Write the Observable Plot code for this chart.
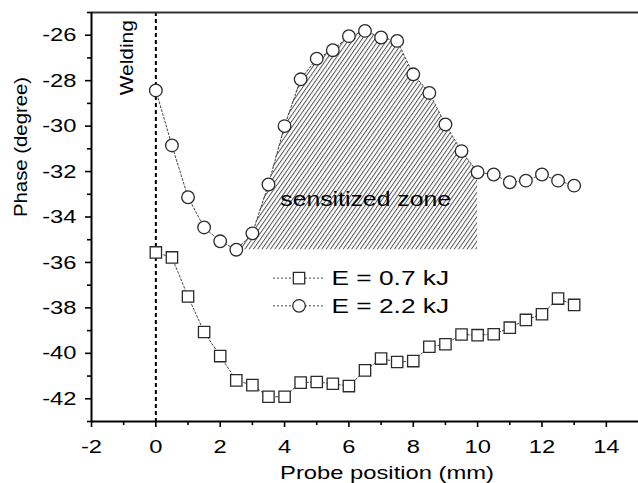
<!DOCTYPE html>
<html>
<head>
<meta charset="utf-8">
<script src="https://cdn.jsdelivr.net/npm/d3@7"></script>
<script src="https://cdn.jsdelivr.net/npm/@observablehq/plot@0.6"></script>
<style>
  html, body { margin: 0; padding: 0; background: #fff; }
  #chart { width: 638px; height: 483px; }
</style>
</head>
<body>
<div id="chart"></div>
<script>
// ---- data ----
const positions = [0, 0.5, 1, 1.5, 2, 2.5, 3, 3.5, 4, 4.5, 5, 5.5, 6, 6.5, 7, 7.5, 8, 8.5, 9, 9.5, 10, 10.5, 11, 11.5, 12, 12.5, 13];
const phaseLow = [-35.56, -35.78, -37.50, -39.06, -40.12, -41.19, -41.40, -41.91, -41.91, -41.29, -41.26, -41.34, -41.44, -40.75, -40.23, -40.38, -40.34, -39.71, -39.60, -39.17, -39.20, -39.16, -38.87, -38.53, -38.28, -37.59, -37.87];
const phaseHigh = [-28.43, -30.85, -33.13, -34.46, -35.07, -35.44, -34.72, -32.57, -30.00, -27.94, -27.03, -26.66, -26.04, -25.81, -26.10, -26.25, -27.72, -28.54, -29.93, -31.10, -32.03, -32.13, -32.47, -32.40, -32.13, -32.40, -32.62];
const seriesNames = ["E = 0.7 kJ", "E = 2.2 kJ"];
const seriesSymbols = ["square", "circle"];
const zoneRange = [2.5, 10];
const zoneLabel = "sensitized zone";
const weldingLabel = "Welding";
const weldingPosition = 0;
const xMajorTicks = [-2, 0, 2, 4, 6, 8, 10, 12, 14];
const xMinorTicks = [-1, 1, 3, 5, 7, 9, 11, 13];
const yMajorTicks = [-42, -40, -38, -36, -34, -32, -30, -28, -26];
const yMinorTicks = [-43, -41, -39, -37, -35, -33, -31, -29, -27, -25];
const xTitle = "Probe position (mm)";
const yTitle = "Phase (degree)";

// ---- build tables ----
const low = positions.map((x, i) => ({x, y: phaseLow[i]}));
const high = positions.map((x, i) => ({x, y: phaseHigh[i]}));
const zone = high.filter(d => d.x >= zoneRange[0] && d.x <= zoneRange[1]);
const zoneBase = d3.min(zone, d => d.y);

// legend entries (placed inside the frame)
const legend = seriesNames.map((name, i) => ({
  name, symbol: seriesSymbols[i],
  y: [-36.69, -37.91][i], x0: 3.64, xm: 4.45, x1: 5.26, xt: 5.46
}));

const font = "Liberation Sans, Arial, Helvetica, sans-serif";
const dark = "#2a2a2a";

const plot = Plot.plot({
  width: 638,
  height: 483,
  marginLeft: 91,
  marginRight: 0,
  marginTop: 12,
  marginBottom: 62,
  style: {fontFamily: font, color: "#000", background: "#fff", overflow: "visible"},
  x: {domain: [-2, 15], label: null},
  y: {domain: [-43, -25], label: null},
  marks: [
    // hatched sensitized zone
    Plot.areaY(zone, {x: "x", y1: zoneBase, y2: "y", fill: "url(#hatch)"}),
    Plot.text([zoneLabel], {x: 6.52, y: -33.2, text: d => d, fontSize: 21, fill: "#000", textAnchor: "middle"}),
    // welding line
    Plot.ruleX([weldingPosition], {stroke: "#000", strokeWidth: 2, strokeDasharray: "4,3"}),
    Plot.text([weldingLabel], {x: -0.9, y: -26.99, text: d => d, rotate: -90, fontSize: 19, fill: "#000"}),
    // series lines
    Plot.line(low, {x: "x", y: "y", stroke: "#444", strokeWidth: 1, strokeDasharray: "2,2"}),
    Plot.line(high, {x: "x", y: "y", stroke: "#444", strokeWidth: 1, strokeDasharray: "2,2"}),
    Plot.dot(low, {x: "x", y: "y", symbol: "square", r: 6.4, fill: "white", stroke: dark, strokeWidth: 1.3}),
    Plot.dot(high, {x: "x", y: "y", symbol: "circle", r: 6.3, fill: "white", stroke: dark, strokeWidth: 1.3}),
    // legend
    Plot.link(legend, {x1: "x0", x2: "x1", y1: "y", y2: "y", stroke: "#444", strokeWidth: 1, strokeDasharray: "2,2"}),
    Plot.dot(legend.filter(d => d.symbol === "square"), {x: "xm", y: "y", symbol: "square", r: 6.4, fill: "white", stroke: dark, strokeWidth: 1.3}),
    Plot.dot(legend.filter(d => d.symbol === "circle"), {x: "xm", y: "y", symbol: "circle", r: 6.3, fill: "white", stroke: dark, strokeWidth: 1.3}),
    Plot.text(legend, {x: "xt", y: "y", text: "name", textAnchor: "start", fontSize: 21, fill: "#000"}),
    // frame lines
    Plot.ruleY([-25], {stroke: "#333", strokeWidth: 2}),
    Plot.ruleY([-43], {stroke: "#000", strokeWidth: 2}),
    Plot.ruleX([-2], {stroke: "#000", strokeWidth: 2}),
    // axes
    Plot.axisX(xMajorTicks, {anchor: "bottom", tickSize: 6, tickPadding: 12, strokeWidth: 1.6, fontSize: 19, tickFormat: d => String(d), label: null}),
    Plot.axisX(xMinorTicks, {anchor: "bottom", tickSize: 4, strokeWidth: 1.6, tickFormat: () => "", label: null}),
    Plot.axisY(yMajorTicks, {anchor: "left", tickSize: 6, tickPadding: 9, strokeWidth: 1.6, fontSize: 19, tickFormat: d => String(d), label: null}),
    Plot.axisY(yMinorTicks, {anchor: "left", tickSize: 4, strokeWidth: 1.6, tickFormat: () => "", label: null}),
    // axis titles
    Plot.text([xTitle], {frameAnchor: "bottom", dx: 22, dy: 57, text: d => d, fontSize: 19, fill: "#000"}),
    Plot.text([yTitle], {frameAnchor: "left", dx: -71, rotate: -90, text: d => d, fontSize: 19, fill: "#000"})
  ]
});

// hatch pattern definition
const svg = d3.select(plot);
const defs = svg.insert("defs", ":first-child");
const pat = defs.append("pattern")
  .attr("id", "hatch")
  .attr("patternUnits", "userSpaceOnUse")
  .attr("width", 3.5)
  .attr("height", 10)
  .attr("patternTransform", "rotate(35)");
pat.append("line")
  .attr("x1", 0.5).attr("y1", 0).attr("x2", 0.5).attr("y2", 10)
  .attr("stroke", "#555").attr("stroke-width", 1);

document.getElementById("chart").appendChild(plot);

// the reference's lettering is wider than Arial: stretch glyphs along the text direction
const stretch = {
  [zoneLabel]: 1.18,
  [yTitle]: 1.07,
  [weldingLabel]: 1.1
};
svg.selectAll("text").each(function() {
  const t = this.textContent;
  if (!t) return;
  const k = stretch[t] ?? 1.25;
  const len = this.getComputedTextLength();
  if (len > 0) {
    this.setAttribute("textLength", (len * k).toFixed(1));
    this.setAttribute("lengthAdjust", "spacingAndGlyphs");
  }
});
</script>
</body>
</html>
